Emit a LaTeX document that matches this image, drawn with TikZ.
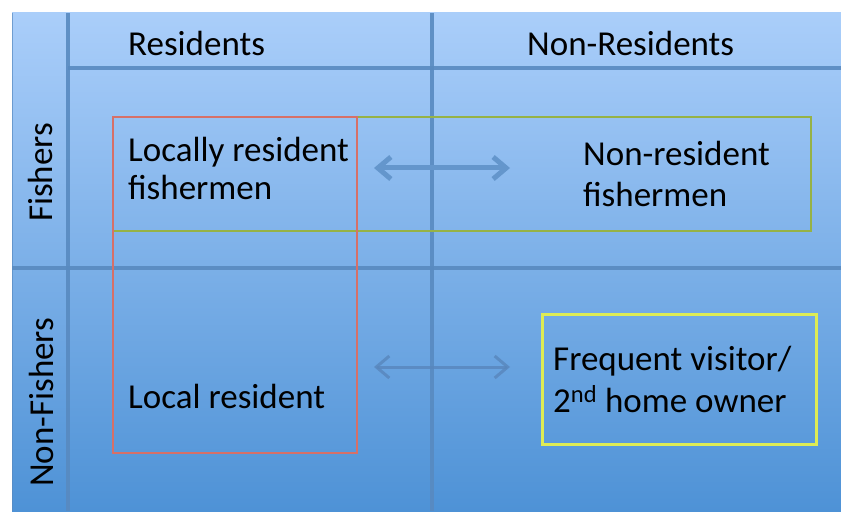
\documentclass[tikz,border=0pt]{standalone}
\usepackage{fontspec}
\setmainfont{Carlito}
\usetikzlibrary{arrows.meta}
\definecolor{bgtop}{RGB}{170,206,250}
\definecolor{bgbot}{RGB}{78,146,214}
\definecolor{gridc}{RGB}{88,138,192}
\definecolor{resred}{RGB}{214,112,104}
\definecolor{fishgreen}{RGB}{150,178,70}
\definecolor{visyellow}{RGB}{222,236,84}
\definecolor{arrowc}{RGB}{100,150,204}
\definecolor{arrowd}{RGB}{88,134,188}
\begin{document}
\begin{tikzpicture}[x=1pt,y=-1pt,
  label/.style={font=\fontsize{35}{38}\selectfont, inner sep=0pt, text=black},
  cell/.style={label, align=left, anchor=base west},
  gridline/.style={draw=gridc, line width=3.5pt, opacity=0.9},
  groupbox/.style={draw, line width=2pt, inner sep=0pt, anchor=north west},
  twoway/.style={{Straight Barb[length=13pt,width=22pt]}-{Straight Barb[length=13pt,width=22pt]}, line cap=round, line join=round}
]
\useasboundingbox (0,0) rectangle (841,516);

% table background
\shade[top color=bgtop, bottom color=bgbot] (12,13) rectangle (841,511);
\draw[gridc, line width=1.5pt, opacity=0.7] (12.5,13) -- (12.5,511);

% table grid
\draw[gridline] (68,13) -- (68,511);
\draw[gridline] (432,13) -- (432,511);
\draw[gridline] (68,68) -- (841,68);
\draw[gridline] (12,268) -- (841,268);

% column headings
\node[label, anchor=base west] (hres) at (128,56) {Residents};
\node[label, anchor=base west] (hnonres) at (527,56) {Non-Residents};

% row headings
\node[label, anchor=base west, rotate=90] (hfish) at (52,222) {Fishers};
\node[label, anchor=base west, rotate=90] (hnonfish) at (53,487) {Non-Fishers};

% group boxes
\node[groupbox, draw=fishgreen, minimum width=698pt, minimum height=114pt] (fishbox) at (112,116) {};
\node[groupbox, draw=resred, minimum width=244pt, minimum height=336pt] (resbox) at (112,116) {};
\node[groupbox, draw=visyellow, line width=3pt, minimum width=274pt, minimum height=130pt] (visbox) at (541,313) {};

% cell texts (base anchor sits on the last line)
\node[cell] (locfish) at (128,200) {Locally resident\\fishermen};
\node[cell, font=\fontsize{35}{42}\selectfont] (nonfish) at (583,207) {Non-resident\\fishermen};
\node[cell] (locres) at (128,408) {Local resident};
\node[cell, font=\fontsize{35}{42}\selectfont] (visitor) at (553,412) {Frequent visitor/\\2\textsuperscript{nd} home owner};

% links between residents and non-residents
\coordinate (fa) at (374,168);
\coordinate (fb) at (510,168);
\coordinate (va) at (374,367);
\coordinate (vb) at (510,367);
\draw[twoway, arrowc, line width=5pt] (fa) -- (fb);
\draw[twoway, arrowd, line width=3pt, opacity=0.8] (va) -- (vb);
\end{tikzpicture}
\end{document}
